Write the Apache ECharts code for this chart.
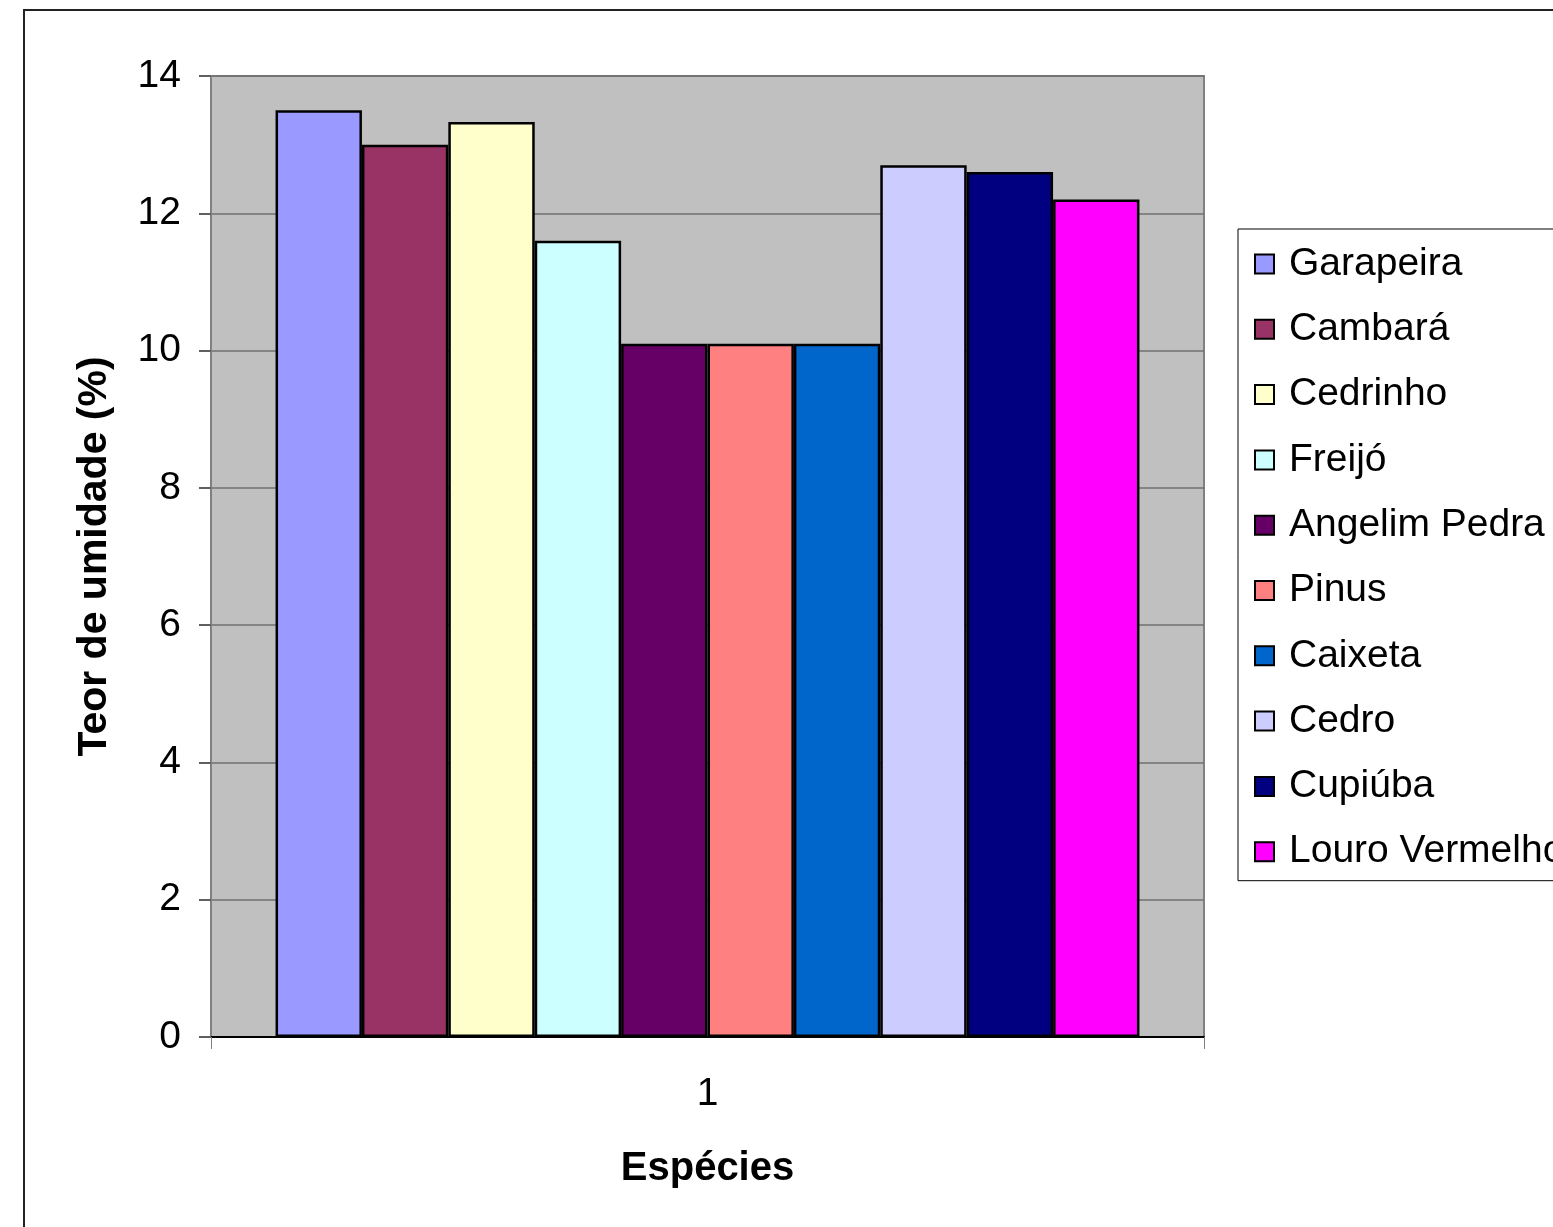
<!DOCTYPE html>
<html>
<head>
<meta charset="utf-8">
<script src="https://cdn.jsdelivr.net/npm/echarts@6/dist/echarts.min.js"></script>
<style>
  html, body { margin: 0; padding: 0; background: #ffffff; }
  #chart { width: 1553px; height: 1227px; }
</style>
</head>
<body>
<div id="chart"></div>
<script>
// Teor de umidade (%) por espécie de madeira
const categories = ['1'];
const species = ['Garapeira', 'Cambará', 'Cedrinho', 'Freijó', 'Angelim Pedra',
                 'Pinus', 'Caixeta', 'Cedro', 'Cupiúba', 'Louro Vermelho'];
const moisture = [13.5, 13.0, 13.33, 11.6, 10.1, 10.1, 10.1, 12.7, 12.6, 12.2];
const colors = ['#9999FF', '#993366', '#FFFFCC', '#CCFFFF', '#660066',
                '#FF8080', '#0066CC', '#CCCCFF', '#000080', '#FF00FF'];
const yTicks = { min: 0, max: 14, interval: 2 };

const font = 'Liberation Sans, Arial, sans-serif';

const series = species.map((name, i) => ({
  name: name,
  type: 'bar',
  data: [moisture[i]],
  barGap: '0%',
  barCategoryGap: '13%',
  itemStyle: { color: colors[i], borderColor: '#000000', borderWidth: 2.5 },
  emphasis: { disabled: true },
  animation: false
}));

const chart = echarts.init(document.getElementById('chart'), null, { renderer: 'canvas' });
chart.setOption({
  animation: false,
  textStyle: { fontFamily: font, color: '#000' },
  graphic: [{
    type: 'rect',
    shape: { x: 24, y: 10, width: 3000, height: 3000 },
    style: { fill: 'none', stroke: '#222222', lineWidth: 2 },
    silent: true,
    z: 100
  }],
  grid: {
    left: 211, right: 349, top: 76, bottom: 190,
    show: true, backgroundColor: '#C0C0C0', borderColor: '#808080', borderWidth: 2
  },
  legend: {
    orient: 'vertical',
    left: 1238, top: 229,
    padding: [15, 60, 9, 16],
    itemWidth: 19, itemHeight: 19,
    itemGap: 25.3,
    icon: 'rect',
    borderColor: '#000000', borderWidth: 1,
    itemStyle: { borderColor: '#000000', borderWidth: 2 },
    textStyle: { fontFamily: font, fontSize: 39, color: '#000', lineHeight: 40, padding: [0, 0, 0, 10] },
    data: species,
    selectedMode: false
  },
  xAxis: {
    type: 'category',
    data: categories,
    name: 'Espécies',
    nameLocation: 'middle',
    nameGap: 112,
    nameTextStyle: { fontFamily: font, fontSize: 40, fontWeight: 'bold', color: '#000' },
    axisLine: { show: true, lineStyle: { color: '#000000', width: 2 } },
    axisTick: { show: true, length: 12, lineStyle: { color: '#808080', width: 1 } },
    axisLabel: { fontFamily: font, fontSize: 39, color: '#000', margin: 38 },
    splitLine: { show: false }
  },
  yAxis: {
    type: 'value',
    min: yTicks.min, max: yTicks.max, interval: yTicks.interval,
    name: 'Teor de umidade (%)',
    nameLocation: 'middle',
    nameGap: 96,
    nameTextStyle: { fontFamily: font, fontSize: 41, fontWeight: 'bold', color: '#000' },
    axisLine: { show: true, lineStyle: { color: '#808080', width: 2 } },
    axisTick: { show: true, length: 12, lineStyle: { color: '#606060', width: 2 } },
    axisLabel: { fontFamily: font, fontSize: 39, color: '#000', margin: 30 },
    splitLine: { show: true, lineStyle: { color: '#707070', width: 1.5 } }
  },
  series: series
});
</script>
</body>
</html>
